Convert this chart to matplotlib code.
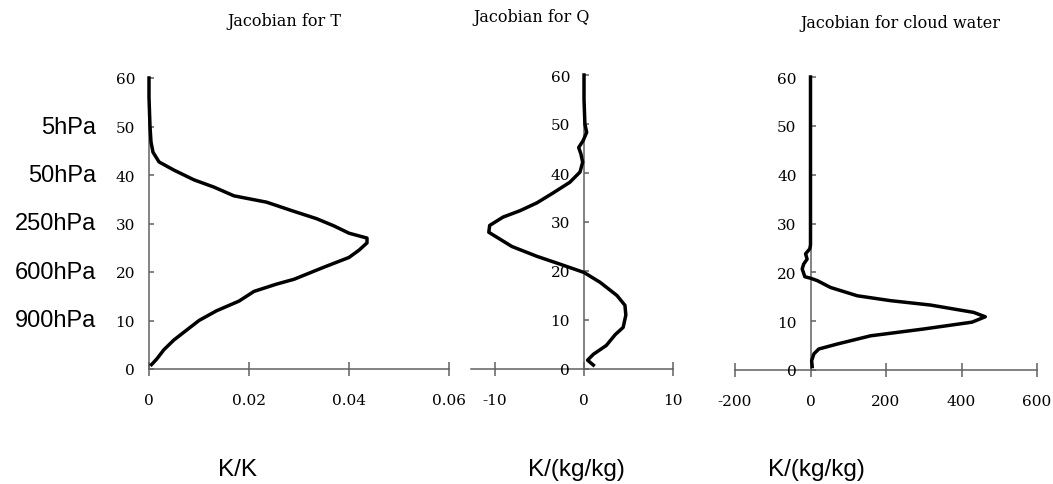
import matplotlib.pyplot as plt

# Jacobian for T  (K/K)
t_jac = [0.0005, 0.0015, 0.003, 0.005, 0.0075, 0.010, 0.0135, 0.018, 0.021, 0.0255,
         0.029, 0.035, 0.040, 0.042, 0.0436, 0.0436, 0.040, 0.037, 0.0335, 0.029,
         0.0235, 0.017, 0.013, 0.009, 0.005, 0.002, 0.0008, 0.0004, 0.0002, 0.0, 0.0]
t_lev = [0.9, 2, 4, 6, 8, 10, 12, 14, 16, 17.5,
         18.5, 21, 23, 24.5, 26, 27, 28, 29.5, 31, 32.5,
         34.4, 35.7, 37.5, 39, 41, 42.7, 44.7, 46.8, 50, 56, 60]

# Jacobian for Q  (K/(kg/kg))
q_jac = [1.05, 0.4, 1.05, 2.5, 3.5, 4.4, 4.7, 4.6, 3.7, 1.8,
         0.0, -2.7, -5.3, -8.1, -10.7, -10.6, -9.1, -7.2, -5.3, -3.5,
         -1.6, -0.45, -0.15, -0.35, -0.6, -0.1, 0.3, 0.1, 0.0, 0.0]
q_lev = [0.8, 1.8, 3, 4.8, 7, 8.5, 11, 13, 15, 17.7,
         19.7, 21.4, 23, 25, 27.9, 29.3, 31, 32.3, 33.9, 35.9,
         38.1, 40.2, 42.2, 43.9, 45.2, 46.6, 48.3, 50, 55, 60]

# Jacobian for cloud water  (K/(kg/kg))
c_jac = [4.5, 3, 9, 22, 70, 159, 300, 428, 463, 432,
         318, 212, 124, 53, 18, 0, -15, -22, -18, -9,
         -13, -2, 0, 0]
c_lev = [0.7, 1.9, 3.3, 4.3, 5.3, 7, 8.4, 9.8, 10.9, 11.8,
         13.3, 14.2, 15.2, 16.9, 18.3, 18.8, 19.1, 20.7, 21.7, 22.7,
         23.8, 24.8, 25.6, 60]

titles = ["Jacobian for T", "Jacobian for Q", "Jacobian for cloud water"]
units = ["K/K", "K/(kg/kg)", "K/(kg/kg)"]
xticks = [[0, 0.02, 0.04, 0.06], [-10, 0, 10], [-200, 0, 200, 400, 600]]
xtick_labels = [["0", "0.02", "0.04", "0.06"], ["-10", "0", "10"],
                ["-200", "0", "200", "400", "600"]]
xlims = [(0, 0.06), (-12.7, 10), (-200, 600)]
yticks = [0, 10, 20, 30, 40, 50, 60]
hpa_labels = ["900hPa", "600hPa", "250hPa", "50hPa", "5hPa"]
hpa_levels = [10, 20, 30, 40, 50]

W, H = 1053, 485
fig = plt.figure(figsize=(W / 100, H / 100), dpi=100)

# axes boxes in pixels: left, right, bottom(y px of 0), top(y px of 60)
boxes = [(149, 449, 370, 79), (471, 673, 370, 76), (735, 1037, 371, 78)]
series = [(t_jac, t_lev), (q_jac, q_lev), (c_jac, c_lev)]
title_pos = [(284, 22), (532, 17), (900, 23)]
unit_pos = [(238, 470), (576, 470), (816, 470)]

serif = "DejaVu Serif"
axis_col = "#606060"

for i in range(3):
    l, r, b, t = boxes[i]
    ax = fig.add_axes([l / W, 1 - b / H, (r - l) / W, (b - t) / H])
    x, y = series[i]
    ax.plot(x, y, color="black", lw=2.5, solid_joinstyle="round", clip_on=False)
    ax.set_xlim(*xlims[i])
    ax.set_ylim(0, 60)
    ax.patch.set_visible(False)
    for s in ("top", "right"):
        ax.spines[s].set_visible(False)
    ax.spines["left"].set_position(("data", 0))
    ax.spines["bottom"].set_position(("data", 0))
    for s in ("left", "bottom"):
        ax.spines[s].set_color(axis_col)
        ax.spines[s].set_linewidth(1.1)
        ax.spines[s].set_zorder(1)
    ax.set_xticks(xticks[i])
    ax.set_xticklabels(xtick_labels[i], fontfamily=serif, fontsize=11)
    ax.set_yticks(yticks)
    ax.set_yticklabels([str(v) for v in yticks], fontfamily=serif, fontsize=11)
    ax.tick_params(axis="x", direction="inout", length=10, width=1.1,
                   color=axis_col, pad=12)
    ax.tick_params(axis="y", direction="in", length=3.5, width=1.1,
                   color=axis_col, pad=10)

    tx, ty = title_pos[i]
    fig.text(tx / W, 1 - ty / H, titles[i], ha="center", va="center",
             fontfamily=serif, fontsize=11.5)
    ux, uy = unit_pos[i]
    fig.text(ux / W, 1 - uy / H, units[i], ha="center", va="center",
             fontfamily="Liberation Sans", fontsize=17.5)

    if i == 0:
        for lab, lev in zip(hpa_labels, hpa_levels):
            ax.text(-0.0106, lev, lab, ha="right", va="center",
                    fontfamily="Liberation Sans", fontsize=17,
                    clip_on=False)

fig.savefig("out.png", dpi=100)
